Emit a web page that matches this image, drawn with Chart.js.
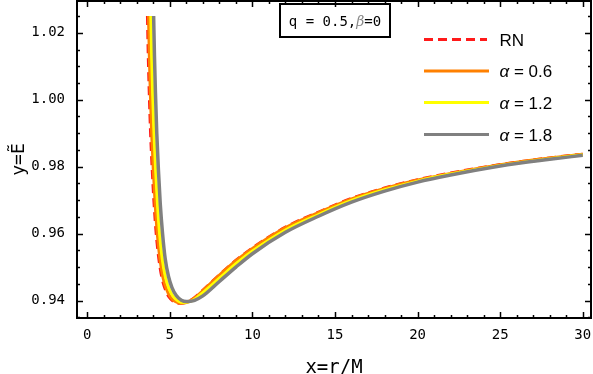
<!DOCTYPE html>
<html><head><meta charset="utf-8">
<script src="https://cdn.jsdelivr.net/npm/chart.js@4.4.0/dist/chart.umd.min.js"></script>
<style>html,body{margin:0;padding:0;background:#fff;}#wrap{width:593px;height:374px;position:relative;}</style>
</head><body><div id="wrap"><canvas id="c" width="593" height="374"></canvas></div>
<script>
// ---- data ----
const seriesLabels = ['RN', 'α = 0.6', 'α = 1.2', 'α = 1.8'];
const boxText = ['q = 0.5,', 'β', '=0'];

const rnX = [3.63,3.68,3.74,3.82,3.92,4.03,4.16,4.32,4.50,4.70,4.95,5.25,5.60,6.00,6.50,7.0,8.0,9.0,10.0,12.0,14.0,16.0,18.0,20.0,22.0,25.0,28.0,30.0];
const rnY = [1.025,1.013,1.002,0.990,0.979,0.969,0.960,0.9525,0.9470,0.9435,0.9410,0.9396,0.9391,0.9395,0.9410,0.9432,0.9478,0.9521,0.9558,0.9620,0.9665,0.9706,0.9737,0.9762,0.9782,0.9807,0.9827,0.9838];

const a06X = [3.71,3.76,3.82,3.90,4.00,4.11,4.24,4.40,4.58,4.78,5.03,5.33,5.68,6.05,6.50,7.0,8.0,9.0,10.0,12.0,14.0,16.0,18.0,20.0,22.0,25.0,28.0,30.0];
const a06Y = [1.025,1.013,1.002,0.990,0.979,0.969,0.960,0.9525,0.9470,0.9436,0.9411,0.9397,0.9392,0.9395,0.9408,0.9430,0.9476,0.9519,0.9556,0.9618,0.9663,0.9704,0.9735,0.9760,0.9780,0.9806,0.9826,0.9837];

const a12X = [3.85,3.90,3.96,4.04,4.14,4.25,4.38,4.54,4.73,4.94,5.19,5.50,5.85,6.15,6.50,7.0,8.0,9.0,10.0,12.0,14.0,16.0,18.0,20.0,22.0,25.0,28.0,30.0];
const a12Y = [1.025,1.013,1.002,0.990,0.979,0.969,0.960,0.9525,0.9471,0.9437,0.9413,0.9399,0.9394,0.9396,0.9404,0.9424,0.9467,0.9510,0.9548,0.9611,0.9657,0.9699,0.9731,0.9757,0.9778,0.9804,0.9824,0.9836];

const a18X = [4.02,4.07,4.13,4.21,4.31,4.42,4.56,4.72,4.92,5.13,5.39,5.70,6.00,6.25,6.50,7.0,8.0,9.0,10.0,12.0,14.0,16.0,18.0,20.0,22.0,25.0,28.0,30.0];
const a18Y = [1.025,1.013,1.002,0.990,0.979,0.969,0.960,0.9525,0.9472,0.9439,0.9415,0.9401,0.9397,0.9398,0.9401,0.9414,0.9457,0.9500,0.9540,0.9604,0.9652,0.9694,0.9727,0.9754,0.9775,0.9802,0.9822,0.9834];

const xTicks = [0, 5, 10, 15, 20, 25, 30];
const xTickLabels = ['0', '5', '10', '15', '20', '25', '30'];
const xMinor = [0,1,2,3,4,5,6,7,8,9,10,11,12,13,14,15,16,17,18,19,20,21,22,23,24,25,26,27,28,29,30];
const yTicks = [0.94, 0.96, 0.98, 1.00, 1.02];
const yTickLabels = ['0.94', '0.96', '0.98', '1.00', '1.02'];
const yMinor = [0.935,0.94,0.945,0.95,0.955,0.96,0.965,0.97,0.975,0.98,0.985,0.99,0.995,1.0,1.005,1.01,1.015,1.02,1.025];

// ---- styling ----
const colors = ['#ff1a1a', '#ff8000', '#ffff00', '#808080'];
const pts = (xs, ys) => xs.map((x, i) => ({x: x, y: ys[i]}));
const MONO = 'DejaVu Sans Mono';

function ds(i, xs, ys, extra) {
  return Object.assign({
    label: seriesLabels[i], data: pts(xs, ys), showLine: true,
    borderColor: colors[i], backgroundColor: colors[i], borderWidth: 3,
    pointRadius: 0, cubicInterpolationMode: 'monotone', fill: false
  }, extra || {});
}

const framePlugin = {
  id: 'frame',
  afterDatasetsDraw(chart) {
    const {ctx, chartArea: a, scales: {x, y}} = chart;
    ctx.save();
    ctx.strokeStyle = '#000';
    ctx.lineWidth = 1.5;
    xMinor.forEach(v => {
      const px = Math.round(x.getPixelForValue(v)) + 0.5;
      const L = xTicks.includes(v) ? 6 : 3;
      ctx.beginPath(); ctx.moveTo(px, a.bottom); ctx.lineTo(px, a.bottom - L); ctx.stroke();
      ctx.beginPath(); ctx.moveTo(px, a.top); ctx.lineTo(px, a.top + L); ctx.stroke();
    });
    yMinor.forEach(v => {
      const py = Math.round(y.getPixelForValue(v)) + 0.5;
      const L = yTicks.some(t => Math.abs(t - v) < 1e-9) ? 6 : 3;
      ctx.beginPath(); ctx.moveTo(a.left, py); ctx.lineTo(a.left + L, py); ctx.stroke();
      ctx.beginPath(); ctx.moveTo(a.right, py); ctx.lineTo(a.right - L, py); ctx.stroke();
    });
    ctx.lineWidth = 2;
    ctx.strokeRect(a.left, a.top, a.right - a.left, a.bottom - a.top);
    ctx.restore();
  },
  afterDraw(chart) {
    const {ctx} = chart;
    ctx.save();
    const lx0 = 424, lx1 = 489, tx = 499.5;
    const ly = [39.5, 71, 102.5, 134.5];
    chart.data.datasets.forEach((d, i) => {
      ctx.strokeStyle = d.borderColor;
      ctx.lineWidth = 3;
      ctx.setLineDash(d.borderDash || []);
      ctx.beginPath(); ctx.moveTo(lx0, ly[i]); ctx.lineTo(i === 0 ? 487 : lx1, ly[i]); ctx.stroke();
      ctx.setLineDash([]);
      ctx.fillStyle = '#000';
      ctx.textBaseline = 'alphabetic';
      ctx.textAlign = 'left';
      const lab = seriesLabels[i];
      const by = ly[i] + 6;
      if (lab.startsWith('α')) {
        ctx.font = 'italic 17px "Liberation Sans"';
        ctx.fillText('α', tx, by);
        const w = ctx.measureText('α').width;
        ctx.font = '17px "Liberation Sans"';
        ctx.fillText(lab.slice(1), tx + w, by);
      } else {
        ctx.font = '17px "Liberation Sans"';
        ctx.fillText(lab, tx, by);
      }
    });
    ctx.lineWidth = 2;
    ctx.strokeStyle = '#000';
    ctx.strokeRect(280, 4, 110, 33);
    const fonts = ['14px "' + MONO + '"', 'italic 14px "DejaVu Serif"', '14px "' + MONO + '"'];
    const cols = ['#000', '#888', '#000'];
    const widths = boxText.map((t, i) => { ctx.font = fonts[i]; return ctx.measureText(t).width; });
    const total = widths.reduce((s, w) => s + w, 0);
    let cx = 335 - total / 2;
    boxText.forEach((t, i) => {
      ctx.font = fonts[i]; ctx.fillStyle = cols[i];
      ctx.fillText(t, cx, 25.5);
      cx += widths[i];
    });
    ctx.restore();
  }
};

new Chart(document.getElementById('c'), {
  type: 'scatter',
  data: {
    datasets: [
      ds(0, rnX, rnY, {borderDash: [9, 5], order: 3, borderWidth: 2.5}),
      ds(1, a06X, a06Y, {order: 2}),
      ds(2, a12X, a12Y, {order: 1}),
      ds(3, a18X, a18Y, {order: 0, borderWidth: 3.5})
    ]
  },
  options: {
    responsive: false, animation: false, devicePixelRatio: 1,
    layout: {padding: {top: 1, right: 2, left: 0, bottom: 0}},
    plugins: {legend: {display: false}, tooltip: {enabled: false}},
    scales: {
      x: {
        type: 'linear', min: -0.62, max: 30.5,
        afterBuildTicks: s => { s.ticks = xTicks.map(v => ({value: v})); },
        afterFit: s => { s.height = 56; s.paddingLeft = 0; s.paddingRight = 0; },
        grid: {display: false}, border: {display: false},
        ticks: {padding: 1, color: '#000', autoSkip: false, maxRotation: 0,
          font: {family: MONO, size: 14},
          callback: (v, i) => xTickLabels[i]},
        title: {display: true, text: 'x=r/M', color: '#000',
          font: {family: MONO, size: 19, lineHeight: 1}, padding: {top: 0, bottom: -4}}
      },
      y: {
        type: 'linear', min: 0.9348, max: 1.0295,
        afterBuildTicks: s => { s.ticks = yTicks.map(v => ({value: v})); },
        afterFit: s => { s.width = 77; s.paddingTop = 0; s.paddingBottom = 0; },
        grid: {display: false}, border: {display: false},
        ticks: {padding: 4, color: '#000', autoSkip: false,
          font: {family: MONO, size: 14},
          callback: (v, i) => yTickLabels[i]},
        title: {display: true, text: 'y=Ẽ', color: '#000',
          font: {family: MONO, size: 18, lineHeight: 1}, padding: {top: 10, bottom: 0}}
      }
    }
  },
  plugins: [framePlugin]
});
</script>
</body></html>
